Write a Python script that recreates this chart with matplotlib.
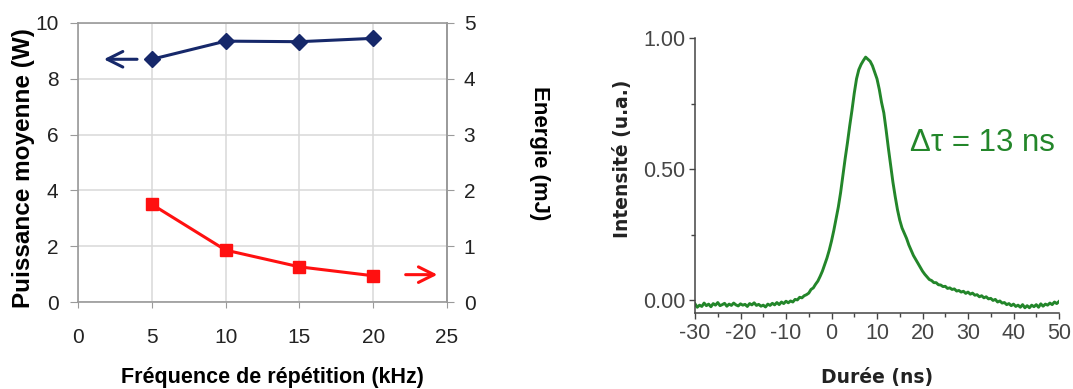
import numpy as np
import matplotlib
matplotlib.use("Agg")
import matplotlib.pyplot as plt
from matplotlib.ticker import MultipleLocator, FormatStrFormatter

plt.rcParams["axes.unicode_minus"] = False

# ---------------- data ----------------
freq_khz = [5, 10, 15, 20]
power_w = [8.70, 9.35, 9.33, 9.45]
energy_mj = [1.75, 0.93, 0.63, 0.47]

time_ns = np.arange(-30, 50.25, 0.5)
intensity = [
    -0.015, -0.028, -0.020, -0.025, -0.012, -0.022, -0.016, -0.026, -0.014, -0.020,
    -0.010, -0.022, -0.018, -0.013, -0.024, -0.016, -0.021, -0.012, -0.019, -0.023,
    -0.015, -0.020, -0.017, -0.025, -0.014, -0.019, -0.011, -0.021, -0.017, -0.024,
    -0.020, -0.027, -0.016, -0.021, -0.013, -0.019, -0.010, -0.018, -0.008, -0.014,
    -0.005, -0.011, -0.004, -0.008, 0.002, 0.000, 0.010, 0.008, 0.016, 0.020,
    0.026, 0.040, 0.046, 0.060, 0.072, 0.090, 0.110, 0.135, 0.160, 0.190,
    0.225, 0.265, 0.310, 0.355, 0.410, 0.475, 0.540, 0.600, 0.665, 0.725,
    0.790, 0.845, 0.880, 0.900, 0.915, 0.928, 0.920, 0.912, 0.895, 0.870,
    0.845, 0.805, 0.755, 0.715, 0.650, 0.580, 0.515, 0.450, 0.395, 0.345,
    0.305, 0.275, 0.255, 0.235, 0.210, 0.190, 0.170, 0.155, 0.140, 0.125,
    0.110, 0.098, 0.088, 0.078, 0.074, 0.066, 0.066, 0.058, 0.057, 0.051,
    0.052, 0.044, 0.046, 0.040, 0.042, 0.034, 0.036, 0.030, 0.033, 0.025,
    0.030, 0.022, 0.026, 0.018, 0.020, 0.012, 0.016, 0.008, 0.012, 0.004,
    0.006, -0.002, 0.002, -0.008, -0.004, -0.012, -0.010, -0.018, -0.014, -0.022,
    -0.016, -0.025, -0.020, -0.028, -0.018, -0.030, -0.022, -0.030, -0.020, -0.026,
    -0.018, -0.028, -0.015, -0.024, -0.016, -0.020, -0.012, -0.018, -0.008, -0.014,
    -0.006,
]
pulse_label = "\u0394\u03c4 = 13 ns"

BLUE = "#16286a"
RED = "#ff1010"
GREEN = "#23862a"

fig = plt.figure(figsize=(10.73, 3.89), dpi=100)

# ---------------- left chart ----------------
ax = fig.add_axes([78 / 1073, 1 - 302 / 389, 369 / 1073, 279 / 389])
ax.set_xlim(0, 25)
ax.set_ylim(0, 10)
ax.xaxis.set_major_locator(MultipleLocator(5))
ax.yaxis.set_major_locator(MultipleLocator(2))
ax.grid(True, color="#d9d9d9", lw=1.1)
ax.set_axisbelow(True)
for s in ax.spines.values():
    s.set_color("#9a9a9a")
    s.set_linewidth(1.2)
ax.tick_params(axis="x", direction="out", length=4, color="#9a9a9a", pad=15,
               labelsize=15, labelcolor="#222222")
ax.tick_params(axis="y", direction="out", length=6, color="#9a9a9a", pad=8,
               labelsize=15, labelcolor="#222222")
for lab in ax.get_xticklabels() + ax.get_yticklabels():
    lab.set_family("Liberation Sans")

ax.plot(freq_khz, power_w, color=BLUE, lw=2.2, marker="D", markersize=8.5, zorder=3)

ax2 = ax.twinx()
ax2.set_ylim(0, 5)
ax2.yaxis.set_major_locator(MultipleLocator(1))
for s in ax2.spines.values():
    s.set_visible(False)
ax2.spines["right"].set_visible(True)
ax2.spines["right"].set_color("#9a9a9a")
ax2.spines["right"].set_linewidth(1.2)
ax2.tick_params(axis="y", direction="out", length=5, color="#9a9a9a", pad=7,
                labelsize=15, labelcolor="#222222")
for lab in ax2.get_yticklabels():
    lab.set_family("Liberation Sans")
ax2.plot(freq_khz, energy_mj, color=RED, lw=2.2, marker="s", markersize=8, zorder=3)

ax.annotate("", xy=(1.75, power_w[0]), xytext=(4.0, power_w[0]),
            arrowprops=dict(arrowstyle="->", color=BLUE, lw=2.2, mutation_scale=28,
                            shrinkA=0, shrinkB=0))
ax2.annotate("", xy=(24.35, 0.49), xytext=(22.2, 0.49),
             arrowprops=dict(arrowstyle="->", color=RED, lw=2.2, mutation_scale=28,
                             shrinkA=0, shrinkB=0))

ax.set_ylabel("Puissance moyenne (W)", fontsize=17.5, fontweight="bold",
              family="Liberation Sans", va="center")
ax.yaxis.set_label_coords(-0.149, 0.48)
ax.set_xlabel("Fréquence de répétition (kHz)", fontsize=15.5, fontweight="bold",
              family="Liberation Sans", va="center")
ax.xaxis.set_label_coords(0.526, -0.269)
ax2.set_ylabel("Energie (mJ)", fontsize=16, fontweight="bold",
               family="Liberation Sans", rotation=270, va="center")
ax2.yaxis.set_label_coords(1.252, 0.534)

# ---------------- right chart ----------------
bx = fig.add_axes([695 / 1073, 1 - 313 / 389, 364 / 1073, 274.7 / 389])
bx.plot(time_ns, intensity, color=GREEN, lw=2.1)
bx.set_xlim(-30, 50)
bx.set_ylim(-0.05, 1.0)
bx.xaxis.set_major_locator(MultipleLocator(10))
bx.xaxis.set_minor_locator(MultipleLocator(5))
bx.yaxis.set_major_locator(MultipleLocator(0.5))
bx.yaxis.set_minor_locator(MultipleLocator(0.25))
bx.yaxis.set_major_formatter(FormatStrFormatter("%.2f"))
bx.spines["top"].set_visible(False)
bx.spines["right"].set_visible(False)
for s in ("left", "bottom"):
    bx.spines[s].set_color("#444444")
    bx.spines[s].set_linewidth(1.1)
bx.tick_params(which="both", direction="out", color="#444444", width=1)
bx.tick_params(which="major", length=4, labelsize=15.5, labelcolor="#454545", pad=3)
bx.tick_params(which="minor", length=3)
for lab in bx.get_xticklabels() + bx.get_yticklabels():
    lab.set_family("Liberation Sans")

bx.text(33.1, 0.60, pulse_label, color=GREEN, fontsize=22.5,
        family="Liberation Sans", ha="center", va="center")

bx.set_ylabel("Intensité (u.a.)", fontsize=13.5, fontweight="bold",
              family="DejaVu Sans", color="#222222", va="center")
bx.yaxis.set_label_coords(-0.2005, 0.56)
bx.set_xlabel("Durée (ns)", fontsize=13.5, fontweight="bold",
              family="DejaVu Sans", color="#222222", va="center")
bx.xaxis.set_label_coords(0.5, -0.233)

assert len(intensity) == len(time_ns)
fig.savefig("out.png", dpi=100)
